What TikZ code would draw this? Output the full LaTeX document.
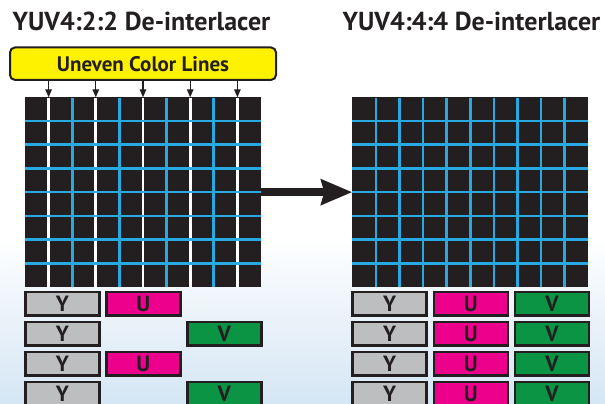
\documentclass[tikz,border=0pt]{standalone}
\usepackage{fontspec}
\setmainfont{PT Sans}
\usetikzlibrary{arrows.meta, positioning}

\definecolor{inkdark}{HTML}{231F20}
\definecolor{gridblue}{HTML}{27AAE1}
\definecolor{lineyellow}{HTML}{FFF200}
\definecolor{lumagray}{HTML}{BCBEC0}
\definecolor{chromau}{HTML}{EC008C}
\definecolor{chromav}{HTML}{0A9444}
\definecolor{skyblue}{HTML}{D5E6F4}

\begin{document}
\begin{tikzpicture}[
    x=1pt, y=-1pt,
    >=Latex,
    titlenode/.style={anchor=base, text=inkdark, inner sep=0pt,
        font=\fontsize{26}{30}\selectfont\bfseries},
    gridnode/.style={rectangle, fill=inkdark, anchor=north west, inner sep=0pt,
        outer sep=0pt, minimum width=236pt, minimum height=189.7pt},
    labelnode/.style={draw=inkdark, line width=2pt, rounded corners=5pt,
        fill=lineyellow, minimum width=266pt, minimum height=32.5pt,
        text=inkdark, font=\fontsize{21}{24}\selectfont\bfseries},
    chanbox/.style={draw=inkdark, line width=2.6pt, rectangle,
        minimum width=74pt, minimum height=23.5pt, inner sep=0pt,
        text=inkdark, font=\fontsize{22}{24}\selectfont\bfseries},
    ybox/.style={chanbox, fill=lumagray},
    ubox/.style={chanbox, fill=chromau},
    vbox/.style={chanbox, fill=chromav},
    sepline/.style={line width=2.7pt},
    colarrow/.style={line width=1.3pt, draw=inkdark,
        -{Triangle[length=8pt, width=6.5pt]}}
]
\clip (0,0) rectangle (605,404);
% background
\fill[white] (0,0) rectangle (605,404);
\shade[top color=white, bottom color=skyblue] (0,235) rectangle (605,404);

% titles
\node[titlenode] (title422) at (141.5,30.7) {YUV4:2:2 De-interlacer};
\node[titlenode] (title444) at (471.5,30.7) {YUV4:4:4 De-interlacer};

% the two pixel grids
\node[gridnode] (gridL) at (25,97.3) {};
\node[gridnode] (gridR) at (352.3,97.3) {};
\foreach \k in {1,3,...,9}
    \draw[sepline, white] ({25+\k*23.6},97.6) -- ({25+\k*23.6},286.7);
\foreach \j in {1,...,7} {
    \draw[sepline, gridblue] (25,{97.3+\j*23.71}) -- (261,{97.3+\j*23.71});
    \draw[sepline, gridblue] (352.3,{97.3+\j*23.71}) -- (588.3,{97.3+\j*23.71});
}
\foreach \k in {2,4,...,8}
    \draw[sepline, gridblue] ({25+\k*23.6},97.6) -- ({25+\k*23.6},286.7);
\foreach \k in {1,...,9}
    \draw[sepline, gridblue] ({352.3+\k*23.6},97.6) -- ({352.3+\k*23.6},286.7);

% uneven colour lines
\node[labelnode] (uneven) at (143,63.7) {Uneven Color Lines};
\foreach \k in {1,3,...,9} {
    \coordinate (c\k) at ({25+\k*23.6},0);
    \draw[colarrow] (uneven.south -| c\k) -- (gridL.north -| c\k);
}

\draw[line width=7.5pt, draw=inkdark,
    -{Stealth[length=31pt, width=25pt, inset=3pt]}] (gridL.east) -- (gridR.west);

% channel boxes, 4:2:2
\node[ybox] (yl1) at (62.5,303.7) {Y};
\node[ubox] (ul1) at (143.3,303.7) {U};
\node[ybox] (yl2) at (62.5,333.7) {Y};
\node[vbox] (vl2) at (224.3,333.7) {V};
\node[ybox] (yl3) at (62.5,363.7) {Y};
\node[ubox] (ul3) at (143.3,363.7) {U};
\node[ybox] (yl4) at (62.5,393.7) {Y};
\node[vbox] (vl4) at (224.3,393.7) {V};

% channel boxes, 4:4:4
\foreach \r in {1,...,4} {
    \node[ybox] (yr\r) at (389.7,{303.7+(\r-1)*30}) {Y};
    \node[ubox, right=4.5pt of yr\r] (ur\r) {U};
    \node[vbox, right=4.5pt of ur\r] (vr\r) {V};
}
\end{tikzpicture}
\end{document}
